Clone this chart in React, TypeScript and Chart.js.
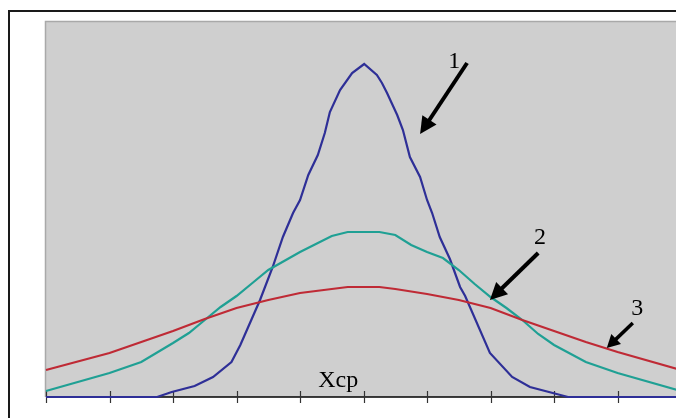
import React, { useEffect, useRef } from "react";
import { Chart, registerables } from "chart.js";

Chart.register(...registerables);

// x in axis units (one tick per unit), y in relative amplitude
const curve1X = [0, 1.75, 1.98, 2.34, 2.63, 2.92, 3.06, 3.37, 3.57, 3.73, 3.89, 4.0, 4.13, 4.28, 4.39, 4.47, 4.63, 4.82, 5.01, 5.21, 5.29, 5.37, 5.53, 5.62, 5.73, 5.89, 6.0, 6.08, 6.2, 6.36, 6.52, 6.6, 6.99, 7.34, 7.62, 7.98, 8.22, 10];
const curve1Y = [0, 0, 5, 11, 20, 35, 52, 97, 130, 160, 184, 197, 222, 242, 264, 285, 307, 324, 333, 322, 314, 304, 282, 267, 240, 220, 197, 184, 160, 138, 110, 101, 44, 20, 10, 4, 0, 0];

const curve2X = [0, 1, 1.5, 2, 2.25, 2.5, 2.75, 3, 3.25, 3.5, 4, 4.25, 4.5, 4.75, 5.25, 5.5, 5.75, 6, 6.25, 6.5, 6.75, 7, 7.25, 7.5, 7.75, 8, 8.5, 9, 10];
const curve2Y = [6, 24, 35, 54, 64, 77, 90, 101, 114, 127, 145, 153, 161, 165, 165, 162, 152, 145, 139, 127, 113, 100, 89, 77, 63, 52, 35, 24, 6];

const curve3X = [0, 1, 1.5, 2, 2.5, 3, 3.5, 4, 4.5, 4.75, 5.25, 5.5, 6, 6.5, 7, 7.5, 8, 8.5, 9, 10];
const curve3Y = [27, 44, 55, 66, 78, 89, 97, 104, 108, 110, 110, 108, 103, 97, 89, 77, 66, 55, 45, 27];

const xTicks = [0, 1, 2, 3, 4, 5, 6, 7, 8, 9, 10];

// annotation labels and arrows (data coordinates)
const labelText = ["1", "2", "3", "Xcp"];
const labelX = [6.43, 7.78, 9.31, 4.6];
const labelY = [336, 160, 89, 10];
const arrowFromX = [6.63, 7.75, 9.24];
const arrowFromY = [334, 144, 74];
const arrowToX = [5.89, 6.99, 8.83];
const arrowToY = [263, 97, 49];

const toPts = (xs: number[], ys: number[]) => xs.map((x, i) => ({ x, y: ys[i] }));

const decor = {
  id: "decor",
  beforeDraw(chart: any) {
    const { ctx, chartArea: a } = chart;
    ctx.save();
    ctx.fillStyle = "#cfcfcf";
    ctx.fillRect(a.left, a.top, a.right - a.left, a.bottom - a.top);
    ctx.strokeStyle = "#a9a9a9";
    ctx.lineWidth = 1.5;
    ctx.beginPath();
    ctx.moveTo(a.left - 0.5, a.bottom);
    ctx.lineTo(a.left - 0.5, a.top - 0.5);
    ctx.lineTo(a.right, a.top - 0.5);
    ctx.stroke();
    ctx.restore();
  },
  beforeDatasetsDraw(chart: any) {
    const { ctx, chartArea: a, scales } = chart;
    const y0 = scales.y.getPixelForValue(0);
    ctx.save();
    ctx.strokeStyle = "#000";
    ctx.lineWidth = 1.5;
    ctx.beginPath();
    ctx.moveTo(a.left, y0);
    ctx.lineTo(a.right, y0);
    ctx.stroke();
    ctx.strokeStyle = "#333";
    ctx.lineWidth = 1.2;
    xTicks.forEach((t) => {
      const px = Math.round(scales.x.getPixelForValue(t)) + 0.5;
      ctx.beginPath();
      ctx.moveTo(px, y0 - 6);
      ctx.lineTo(px, y0 + 6);
      ctx.stroke();
    });
    ctx.restore();
  },
  afterDatasetsDraw(chart: any) {
    const { ctx, scales } = chart;
    ctx.save();
    ctx.fillStyle = "#000";
    ctx.strokeStyle = "#000";
    arrowFromX.forEach((fx, i) => {
      const x1 = scales.x.getPixelForValue(fx);
      const y1 = scales.y.getPixelForValue(arrowFromY[i]);
      const x2 = scales.x.getPixelForValue(arrowToX[i]);
      const y2 = scales.y.getPixelForValue(arrowToY[i]);
      const ang = Math.atan2(y2 - y1, x2 - x1);
      const head = i === 2 ? 13 : 17;
      const half = i === 2 ? 7 : 8.5;
      const bx = x2 - head * Math.cos(ang);
      const by = y2 - head * Math.sin(ang);
      ctx.lineWidth = i === 2 ? 3.5 : 4;
      ctx.lineCap = "butt";
      ctx.beginPath();
      ctx.moveTo(x1, y1);
      ctx.lineTo(bx + 2 * Math.cos(ang), by + 2 * Math.sin(ang));
      ctx.stroke();
      ctx.beginPath();
      ctx.moveTo(x2, y2);
      ctx.lineTo(bx + half * Math.sin(ang), by - half * Math.cos(ang));
      ctx.lineTo(bx - half * Math.sin(ang), by + half * Math.cos(ang));
      ctx.closePath();
      ctx.fill();
    });
    ctx.font = '24px "Liberation Serif", "Times New Roman", serif';
    labelText.forEach((t, i) => {
      const px = scales.x.getPixelForValue(labelX[i]);
      const py = scales.y.getPixelForValue(labelY[i]);
      ctx.textAlign = "center";
      ctx.textBaseline = i === 3 ? "alphabetic" : "middle";
      ctx.fillText(t, px, i === 3 ? py : py + 1);
    });
    ctx.restore();
  },
};

export default function App() {
  const ref = useRef<HTMLCanvasElement | null>(null);
  useEffect(() => {
    if (!ref.current) return;
    const ds = (xs: number[], ys: number[], color: string) => ({
      data: toPts(xs, ys),
      borderColor: color,
      borderWidth: 2.2,
      pointRadius: 0,
      tension: 0,
      fill: false,
      clip: false as any,
    });
    const chart = new Chart(ref.current, {
      type: "line",
      data: {
        datasets: [
          ds(curve3X, curve3Y, "#bf2a35"),
          ds(curve2X, curve2Y, "#1fa094"),
          ds(curve1X, curve1Y, "#2e2f97"),
        ],
      },
      options: {
        animation: false,
        responsive: false,
        maintainAspectRatio: false,
        layout: { padding: { left: 46, top: 22, right: 0, bottom: 21 } },
        plugins: { legend: { display: false }, tooltip: { enabled: false } },
        scales: {
          x: { type: "linear", display: false, min: 0, max: 9.92 },
          y: { type: "linear", display: false, min: 0, max: 375 },
        },
      },
      plugins: [decor],
    });
    return () => chart.destroy();
  }, []);
  return (
    <div style={{ position: "fixed", left: 0, top: 0, width: 676, height: 418, overflow: "hidden", background: "#fff" }}>
      <canvas ref={ref} width={676} height={418} style={{ position: "absolute", left: 0, top: 0 }} />
      <div
        style={{
          position: "absolute",
          left: 8,
          top: 10,
          width: 676,
          height: 418,
          borderLeft: "2px solid #1a1a1a",
          borderTop: "2px solid #1a1a1a",
          pointerEvents: "none",
        }}
      />
    </div>
  );
}
